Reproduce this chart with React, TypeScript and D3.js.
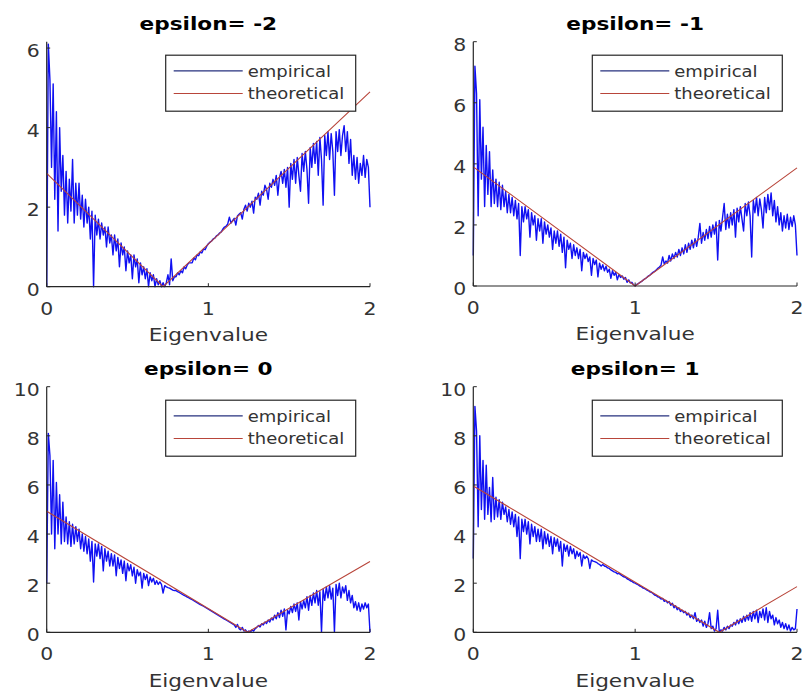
import React from 'react';
import * as d3 from 'd3';

// histogram bins run from 0 to 2 in steps of 0.01
const binStep = 0.01;

const titles = ['epsilon= -2', 'epsilon= -1', 'epsilon= 0', 'epsilon= 1'];
const yMax = [6.16, 8, 10, 10];
const yTicks = [[0, 2, 4, 6], [0, 2, 4, 6, 8], [0, 2, 4, 6, 8, 10], [0, 2, 4, 6, 8, 10]];
const xTicks = [0, 1, 2];
const seriesNames = ['empirical', 'theoretical'];

// theoretical curves: [x, y] corners of the V
const theoretical = [
  [[0, 2.85], [0.72, 0], [2, 4.9]],
  [[0, 3.9], [1.0, 0], [2, 3.87]],
  [[0, 4.93], [1.243, 0], [2, 2.88]],
  [[0, 5.96], [1.52, 0], [2, 1.86]],
];

const empiricalA = [
  0, 6.1, 5.2, 3.0, 5.1, 2.2, 4.4, 1.4, 4.0, 2.4,
  3.3, 1.8, 2.9, 1.6, 2.7, 1.9, 3.2, 1.6, 2.6, 1.8,
  2.6, 1.7, 2.3, 1.5, 2.2, 1.6, 2.0, 1.2, 1.9, 0.0,
  1.8, 1.3, 1.7, 1.2, 1.6, 1.3, 1.5, 1.0, 1.5, 1.1,
  1.3, 0.8, 1.3, 0.9, 1.2, 0.5, 1.1, 0.8, 1.0, 0.4,
  0.9, 0.6, 0.8, 0.2, 0.8, 0.5, 0.7, 0.1, 0.6, 0.3,
  0.5, 0.2, 0.45, 0.0, 0.35, 0.15, 0.3, 0.0, 0.2, 0.05,
  0.15, 0.0, 0.1, 0.0, 0.1, 0.3, 0.05, 0.7, 0.15, 0.25,
  0.25, 0.35, 0.3, 0.4, 0.35, 0.5, 0.45, 0.55, 0.6, 0.6,
  0.6, 0.72, 0.68, 0.8, 0.78, 0.88, 0.85, 0.95, 0.93, 1.02,
  1.08, 1.12, 1.15, 1.2, 1.22, 1.28, 1.3, 1.35, 1.38, 1.45,
  1.5, 1.52, 1.58, 1.75, 1.6, 1.66, 1.72, 1.55, 1.78, 1.82,
  1.86, 1.7, 1.95, 2.05, 1.9, 2.1, 2.0, 2.15, 1.85, 2.25,
  2.2, 2.35, 2.05, 2.4, 2.3, 2.55, 2.45, 2.2, 2.6, 2.5,
  2.7, 2.55, 2.8, 2.3, 2.75, 2.9, 2.6, 2.95, 2.5, 3.0,
  2.0, 3.1, 2.7, 3.2, 2.6, 3.25, 2.8, 2.4, 3.35, 2.9,
  3.4, 2.95, 2.1, 3.5, 3.0, 3.6, 3.1, 3.65, 2.8, 3.75,
  3.2, 2.05, 3.8, 3.3, 3.9, 3.2, 3.85, 3.4, 2.3, 3.9,
  3.4, 3.95, 3.3, 3.8, 4.05, 3.4, 3.9, 3.1, 3.7, 2.8,
  3.3, 2.7, 3.25, 2.6, 3.1, 2.8, 3.3, 2.75, 3.2, 3.0, 2.0,
];

const empiricalB = [
  1.0, 7.2, 6.3, 2.3, 6.1, 3.5, 5.2, 2.6, 4.6, 3.0,
  4.4, 2.6, 3.8, 2.7, 3.5, 2.6, 3.4, 2.5, 3.3, 2.6,
  3.1, 2.4, 3.0, 2.4, 2.9, 2.3, 2.8, 2.2, 2.7, 1.0,
  2.6, 2.1, 2.6, 2.2, 2.5, 1.6, 2.4, 2.0, 2.3, 1.5,
  2.2, 1.8, 2.2, 1.4, 2.1, 1.7, 2.0, 1.6, 1.9, 1.2,
  1.8, 1.4, 1.8, 1.3, 1.7, 1.1, 1.6, 0.6, 1.5, 1.2,
  1.4, 0.9, 1.35, 1.0, 1.25, 0.9, 1.2, 0.5, 1.1, 0.9,
  1.05, 0.8, 0.95, 0.35, 0.9, 0.7, 0.85, 0.3, 0.75, 0.55,
  0.7, 0.5, 0.65, 0.45, 0.55, 0.25, 0.5, 0.35, 0.45, 0.2,
  0.38, 0.28, 0.33, 0.22, 0.28, 0.12, 0.2, 0.1, 0.12, 0.04,
  0.0, 0.05, 0.08, 0.12, 0.15, 0.2, 0.23, 0.27, 0.32, 0.35,
  0.4, 0.45, 0.48, 0.52, 0.58, 0.62, 0.68, 0.95, 0.72, 0.82,
  0.75, 1.0, 0.82, 1.05, 0.9, 1.1, 0.95, 1.2, 1.0, 1.25,
  1.05, 1.35, 1.1, 1.4, 1.2, 1.5, 1.25, 1.55, 1.3, 1.6,
  2.05, 1.4, 1.75, 1.5, 1.85, 1.55, 1.95, 1.6, 2.0, 1.7,
  2.1, 0.85, 2.15, 1.8, 2.25, 2.7, 1.85, 2.35, 1.9, 2.4,
  2.0, 2.5, 1.6, 2.55, 2.1, 2.6, 2.2, 1.8, 2.7, 2.3,
  2.75, 2.3, 0.95, 2.8, 2.4, 2.9, 2.3, 2.85, 2.5, 1.9,
  2.9, 2.4, 3.0, 2.5, 3.05, 2.3, 2.8, 2.1, 2.6, 2.0,
  2.4, 1.8, 2.3, 1.9, 2.35, 1.85, 2.25, 1.95, 2.3, 2.0, 1.0,
];

const empiricalC = [
  2.0, 8.1, 7.2, 4.0, 7.0, 3.4, 6.1, 4.0, 5.6, 3.6,
  5.3, 3.7, 4.7, 3.6, 4.5, 3.5, 4.4, 3.6, 4.3, 3.7,
  4.2, 3.4, 4.0, 3.3, 3.9, 3.2, 3.8, 2.9, 3.7, 2.05,
  3.6, 3.1, 3.6, 3.0, 3.5, 2.5, 3.4, 2.9, 3.3, 2.7,
  3.2, 2.7, 3.15, 2.3, 3.05, 2.6, 2.95, 2.4, 2.9, 2.1,
  2.8, 2.5, 2.75, 2.3, 2.65, 2.0, 2.55, 2.3, 2.45, 1.8,
  2.4, 2.15, 2.35, 1.9, 2.25, 2.05, 2.2, 1.95, 2.1, 1.95,
  2.05, 1.95, 1.6, 1.9, 1.85, 1.82, 1.8, 1.76, 1.72, 1.7,
  1.7, 1.66, 1.62, 1.58, 1.54, 1.5, 1.47, 1.43, 1.4, 1.36,
  1.33, 1.29, 1.25, 1.21, 1.17, 1.13, 1.1, 1.06, 1.02, 0.98,
  0.94, 0.9, 0.86, 0.82, 0.78, 0.74, 0.7, 0.66, 0.62, 0.58,
  0.54, 0.5, 0.46, 0.42, 0.38, 0.34, 0.3, 0.2, 0.32, 0.15,
  0.1, 0.2, 0.05, 0.1, 0.0, 0.05, 0.0, 0.1, 0.05, 0.15,
  0.2, 0.28, 0.22, 0.35, 0.3, 0.42, 0.36, 0.5, 0.42, 0.58,
  0.5, 0.7, 0.55, 0.8, 0.6, 0.9, 0.65, 0.95, 0.1, 0.9,
  0.75, 1.05, 0.8, 1.15, 0.85, 1.2, 0.5, 1.25, 0.95, 1.3,
  1.0, 1.45, 0.9, 1.5, 1.1, 1.6, 1.2, 1.7, 1.1, 1.65,
  0.0, 1.75, 1.3, 1.85, 1.4, 1.9, 1.35, 1.8, 0.0, 1.95,
  1.5, 2.0, 1.4, 1.85, 1.6, 1.9, 1.3, 1.7, 1.2, 1.5,
  1.0, 1.25, 0.9, 1.2, 0.85, 1.15, 0.95, 1.2, 1.0, 1.15, 0.0,
];

const empiricalD = [
  3.0, 9.2, 8.2, 4.3, 8.0, 5.0, 7.0, 4.6, 6.8, 4.8,
  5.9, 4.5, 6.3, 4.6, 5.5, 4.7, 5.4, 4.6, 5.3, 4.8,
  5.1, 4.5, 5.0, 4.4, 4.9, 4.3, 4.8, 3.9, 4.7, 3.0,
  4.6, 4.1, 4.6, 4.0, 4.5, 3.6, 4.4, 3.9, 4.3, 3.7,
  4.2, 3.7, 4.2, 3.4, 4.1, 3.6, 4.0, 3.5, 3.9, 3.2,
  3.85, 3.5, 3.8, 3.3, 3.7, 2.7, 3.6, 3.3, 3.55, 3.1,
  3.5, 3.2, 3.4, 3.0, 3.3, 3.1, 3.25, 2.7, 3.15, 3.0,
  3.1, 3.0, 2.6, 2.95, 2.9, 2.88, 2.85, 2.8, 2.76, 2.7,
  2.76, 2.7, 2.68, 2.62, 2.6, 2.54, 2.5, 2.46, 2.44, 2.38,
  2.4, 2.35, 2.3, 2.26, 2.24, 2.18, 2.15, 2.1, 2.08, 2.02,
  2.0, 1.96, 1.93, 1.88, 1.85, 1.8, 1.78, 1.73, 1.7, 1.65,
  1.63, 1.58, 1.52, 1.5, 1.44, 1.42, 1.35, 1.38, 1.26, 1.3,
  1.2, 1.25, 1.1, 1.18, 1.0, 1.08, 0.92, 1.0, 0.85, 0.9,
  0.8, 0.85, 0.7, 0.78, 0.6, 0.7, 0.55, 0.8, 0.45, 0.55,
  0.4, 0.5, 0.25, 0.45, 0.2, 0.35, 0.8, 0.15, 0.25, 0.05,
  0.15, 0.9, 0.0, 0.1, 0.05, 0.2, 0.1, 0.25, 0.15, 0.3,
  0.25, 0.4, 0.3, 0.5, 0.35, 0.55, 0.4, 0.65, 0.45, 0.7,
  0.5, 0.8, 0.45, 0.85, 0.55, 0.9, 0.4, 0.85, 0.6, 0.95,
  0.5, 1.0, 0.4, 0.85, 0.55, 0.7, 0.3, 0.6, 0.35, 0.5,
  0.2, 0.4, 0.15, 0.35, 0.1, 0.3, 0.05, 0.2, 0.1, 0.15, 0.95,
];

const empirical = [empiricalA, empiricalB, empiricalC, empiricalD];

// plot frames in page pixels
const frames = [
  { left: 46.7, right: 370, top: 41.7, bottom: 286.7 },
  { left: 473.3, right: 797, top: 41.7, bottom: 286 },
  { left: 46.7, right: 370, top: 386.7, bottom: 632.3 },
  { left: 473.3, right: 797, top: 386.7, bottom: 632.3 },
];

const FONT = 'DejaVu Sans';
const SX = 1.2; // text in the source is stretched horizontally
const AXIS = '#262626';
const LABEL = '#333333';
const BLUE = '#1010f2';
const RED = '#b8453a';

function SText({ x, y, anchor = 'middle', size, weight = 'normal', fill = LABEL, children }) {
  return (
    <text
      transform={`translate(${x},${y}) scale(${SX},1)`}
      textAnchor={anchor}
      fontSize={size}
      fontWeight={weight}
      fontFamily={FONT}
      fill={fill}
    >
      {children}
    </text>
  );
}

function Panel({ idx }) {
  const f = frames[idx];
  const x = d3.scaleLinear().domain([0, 2]).range([f.left, f.right]);
  const y = d3.scaleLinear().domain([0, yMax[idx]]).range([f.bottom, f.top]);
  const line = d3.line<[number, number]>().x(d => x(d[0])).y(d => y(d[1]));
  const emp: [number, number][] = empirical[idx].map((v, i) => [i * binStep, v]);
  const theo = theoretical[idx] as [number, number][];
  const tick = 3.5;

  const lx = f.left + 119;
  const ly = f.top + 13.5;

  return (
    <g>
      <path d={line(emp) || ''} fill="none" stroke={BLUE} strokeWidth={1.4} strokeLinejoin="round" />
      <path d={line(theo) || ''} fill="none" stroke={RED} strokeWidth={1.1} />

      {/* axes */}
      <line x1={f.left} x2={f.right} y1={f.bottom} y2={f.bottom} stroke={AXIS} strokeWidth={1.2} />
      <line x1={f.left} x2={f.left} y1={f.top} y2={f.bottom} stroke={AXIS} strokeWidth={1.2} />
      {xTicks.map(t => (
        <g key={'x' + t}>
          <line x1={x(t)} x2={x(t)} y1={f.bottom} y2={f.bottom - tick} stroke={AXIS} strokeWidth={1} />
          <SText x={x(t)} y={f.bottom + 28} size={17}>{t}</SText>
        </g>
      ))}
      {yTicks[idx].map(t => (
        <g key={'y' + t}>
          <line x1={f.left} x2={f.left + tick} y1={y(t)} y2={y(t)} stroke={AXIS} strokeWidth={1} />
          <SText x={f.left - 7} y={y(t) + 9} size={17} anchor="end">{t}</SText>
        </g>
      ))}
      <SText x={(f.left + f.right) / 2} y={f.bottom + 54.4} size={18}>Eigenvalue</SText>
      <SText x={(f.left + f.right) / 2} y={f.top - 11.7} size={18} weight="bold" fill="#000">
        {titles[idx]}
      </SText>

      {/* legend */}
      <rect x={lx} y={ly} width={190} height={56} fill="#fff" stroke={AXIS} strokeWidth={1.2} />
      <line x1={lx + 8} x2={lx + 77} y1={ly + 15.7} y2={ly + 15.7} stroke="#26307e" strokeWidth={1.2} />
      <line x1={lx + 8} x2={lx + 77} y1={ly + 38.3} y2={ly + 38.3} stroke={RED} strokeWidth={1.2} />
      <SText x={lx + 82} y={ly + 21.5} size={15} anchor="start">{seriesNames[0]}</SText>
      <SText x={lx + 82} y={ly + 44} size={15} anchor="start">{seriesNames[1]}</SText>
    </g>
  );
}

export default function App() {
  return (
    <svg
      width={803}
      height={693}
      style={{ position: 'absolute', left: 0, top: 0, background: '#fff' }}
    >
      <rect width={803} height={693} fill="#fff" />
      {[0, 1, 2, 3].map(i => (
        <Panel key={i} idx={i} />
      ))}
    </svg>
  );
}
